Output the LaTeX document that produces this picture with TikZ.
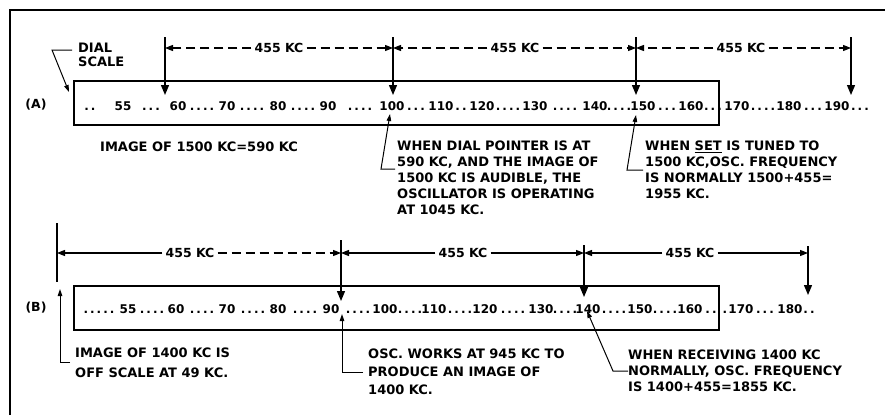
\documentclass[tikz,border=0pt]{standalone}
\usepackage{fontspec}
\setmainfont{DejaVu Sans}
\usetikzlibrary{arrows.meta,positioning}
% a run of scale dots
\newcommand\scdots[1]{.\foreach\i in {2,...,#1}{\kern2pt.}}

\begin{document}
\begin{tikzpicture}[
    x=1pt, y=-1pt,
    frame/.style={line width=1.8pt},
    dialbox/.style={draw, line width=1.6pt, inner sep=0pt, anchor=north west, minimum width=645pt, minimum height=44pt},
    tick/.style={line width=1.3pt},
    pointer/.style={line width=1.3pt, -{Triangle[length=10pt,width=8pt]}},
    dimline/.style={line width=1.1pt, -{Triangle[length=8pt,width=6pt]}},
    dimdash/.style={dimline, dash pattern=on 9pt off 5pt},
    leader/.style={line width=1pt, -{Triangle[length=7pt,width=4.5pt]}},
    note/.style={font=\fontsize{13}{16}\selectfont\bfseries, align=left, inner sep=0pt, anchor=north west},
    kc/.style={font=\fontsize{12.5}{14}\selectfont\bfseries, inner xsep=3pt, inner ysep=0pt},
    num/.style={font=\fontsize{12}{13}\selectfont\bfseries, inner sep=0pt, anchor=base},
    tag/.style={font=\fontsize{12.5}{13}\selectfont\bfseries, inner sep=0pt}
]
\useasboundingbox (0,0) rectangle (885,415);

% frame
\coordinate (fbl) at (10,415);
\coordinate (ftl) at (10,10);
\coordinate (ftr) at (885,10);
\draw[frame] (fbl) -- (ftl) -- (ftr);

%% ---------------- (A) ----------------
\node[dialbox] (boxA) at (73,80) {};
\node[tag] (tagA) at (36,105) {(A)};

\node[note, anchor=west, font=\fontsize{13}{14}\selectfont\bfseries] (dial) at (78,55) {DIAL\\SCALE};
\coordinate (dialend) at (72,50);
\coordinate (dialbend) at (52,50);
\coordinate (dialtip) at (69,92);
\draw[leader] (dialend) -- (dialbend) -- (dialtip);

% pointers
\foreach \n/\x in {a1/165, a2/393, a3/636, a4/851}{
    \coordinate (\n top) at (\x,37);
    \coordinate (\n tip) at (\x,95);
    \draw[pointer] (\n top) -- (\n tip);
}

% 455 KC spans
\node[kc] (kA1) at (279,48) {455 KC};
\node[kc] (kA2) at (515,48) {455 KC};
\node[kc] (kA3) at (741,48) {455 KC};
\draw[dimdash] (kA1.west) -- (a1top |- kA1.west);
\draw[dimdash] (kA1.east) -- (a2top |- kA1.east);
\draw[dimdash] (kA2.west) -- (a2top |- kA2.west);
\draw[dimdash] (kA2.east) -- (a3top |- kA2.east);
\draw[dimdash] (kA3.west) -- (a3top |- kA3.west);
\draw[dimdash] (kA3.east) -- (a4top |- kA3.east);

% dial scale
\foreach \v/\x in {55/123, 60/178, 70/227, 80/278, 90/328, 100/392, 110/441, 120/482,
                   130/535, 140/595, 150/643, 160/691, 170/737, 180/789, 190/837}
    \node[num] (nA\v) at (\x,110) {\v};
\foreach \x/\k in {90/2, 151/3, 202/4, 252/4, 303/4, 360/4, 416/3, 461/2, 508/4,
                   565/4, 619/4, 667/3, 713/1, 763/4, 813/3, 860/3}
    \node[num] (dA\x) at (\x,110) {\scdots{\k}};

% notes
\node[note, anchor=west] (imgA) at (100,147) {IMAGE OF 1500 KC=590 KC};

\node[note] (noteA2) at (397,140.5) {WHEN DIAL POINTER IS AT\\590 KC, AND THE IMAGE OF\\1500 KC IS AUDIBLE, THE\\OSCILLATOR IS OPERATING\\AT 1045 KC.};
\coordinate (hookA2) at (395,169);
\coordinate (bendA2) at (381,169);
\coordinate (tipA2) at (390,114);
\draw[leader] (hookA2) -- (bendA2) -- (tipA2);

\node[note] (noteA3) at (645,140.5) {WHEN \underline{SET} IS TUNED TO\\1500 KC,OSC. FREQUENCY\\IS NORMALLY 1500+455=\\1955 KC.};
\coordinate (hookA3) at (643,170);
\coordinate (bendA3) at (627,170);
\coordinate (tipA3) at (636,115);
\draw[leader] (hookA3) -- (bendA3) -- (tipA3);

%% ---------------- (B) ----------------
\node[dialbox] (boxB) at (73,285) {};
\node[tag] (tagB) at (36,308) {(B)};

\coordinate (b1top) at (57,223);
\coordinate (b1bot) at (57,282);
\draw[tick] (b1top) -- (b1bot);
\foreach \n/\x/\t/\b in {b2/341/240/301, b3/584/245/297, b4/808/246/295}{
    \coordinate (\n top) at (\x,\t);
    \coordinate (\n tip) at (\x,\b);
    \draw[pointer] (\n top) -- (\n tip);
}

\node[kc] (kB1) at (190,253) {455 KC};
\node[kc] (kB2) at (463,253) {455 KC};
\node[kc] (kB3) at (690,253) {455 KC};
\draw[dimline] (kB1.west) -- (b1top |- kB1.west);
\draw[dimdash] (kB1.east) -- (b2top |- kB1.east);
\draw[dimline] (kB2.west) -- (b2top |- kB2.west);
\draw[dimline] (kB2.east) -- (b3top |- kB2.east);
\draw[dimline] (kB3.west) -- (b3top |- kB3.west);
\draw[dimline] (kB3.east) -- (b4top |- kB3.east);

% dial scale
\foreach \v/\x in {55/128, 60/176, 70/227, 80/278, 90/331, 100/385, 110/434, 120/485,
                   130/541, 140/588, 150/640, 160/690, 170/741, 180/790}
    \node[num] (nB\v) at (\x,313) {\v};
\foreach \x/\k in {99/5, 152/4, 202/4, 253/4, 305/4, 358/4, 410/4, 460/4, 513/4,
                   565/4, 614/4, 665/4, 711/2, 765/3, 809/2}
    \node[num] (dB\x) at (\x,313) {\scdots{\k}};
\node[num] (dB725) at (725,313) {.};

% notes
\node[note, font=\fontsize{13}{20}\selectfont\bfseries] (noteB1) at (75,347.5) {IMAGE OF 1400 KC IS\\OFF SCALE AT 49 KC.};
\coordinate (hookB1) at (70,362);
\coordinate (bendB1) at (60,362);
\coordinate (tipB1) at (60,289);
\draw[leader] (hookB1) -- (bendB1) -- (tipB1);

\node[note, font=\fontsize{13}{18}\selectfont\bfseries] (noteB2) at (368,348.5) {OSC. WORKS AT 945 KC TO\\PRODUCE AN IMAGE OF\\1400 KC.};
\coordinate (hookB2) at (363,372);
\coordinate (bendB2) at (342,372);
\coordinate (tipB2) at (342,314);
\draw[leader] (hookB2) -- (bendB2) -- (tipB2);

\node[note] (noteB3) at (628,349.5) {WHEN RECEIVING 1400 KC\\NORMALLY, OSC. FREQUENCY\\IS 1400+455=1855 KC.};
\coordinate (hookB3) at (628,371);
\coordinate (bendB3) at (613,371);
\coordinate (tipB3) at (587,311);
\draw[leader] (hookB3) -- (bendB3) -- (tipB3);

\end{tikzpicture}
\end{document}
